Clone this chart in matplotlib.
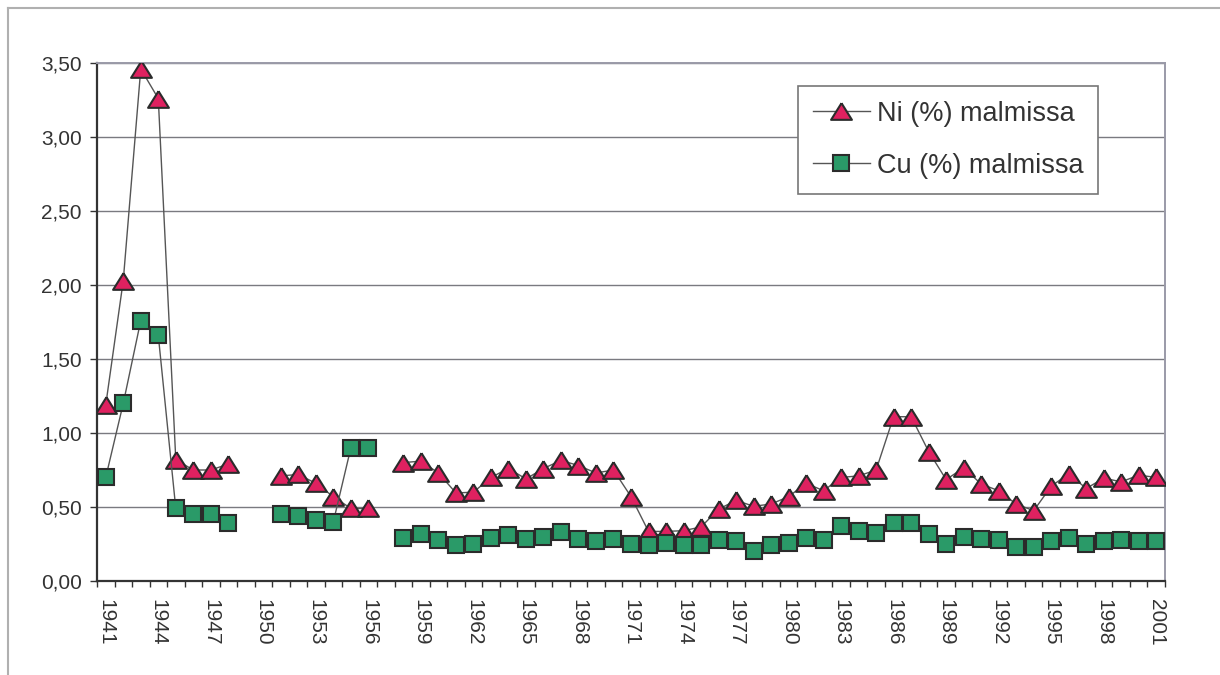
import matplotlib
matplotlib.use("Agg")
import matplotlib.pyplot as plt
from matplotlib.ticker import FixedLocator, FuncFormatter
from matplotlib.lines import Line2D
import numpy as np

plt.rcParams['font.family'] = ['Liberation Sans', 'DejaVu Sans']

years = list(range(1941, 2002))

# Ni and Cu content in ore (%), None = no data for that year
ni = [1.19, 2.03, 3.46, 3.26, 0.82, 0.75, 0.75, 0.79, None, None,
      0.71, 0.72, 0.66, 0.57, 0.49, 0.49, None, 0.80, 0.81, 0.73,
      0.595, 0.60, 0.70, 0.76, 0.69, 0.76, 0.815, 0.78, 0.73, 0.75,
      0.57, 0.335, 0.335, 0.34, 0.365, 0.485, 0.545, 0.505, 0.52, 0.57,
      0.66, 0.61, 0.70, 0.71, 0.75, 1.11, 1.11, 0.875, 0.685, 0.765,
      0.655, 0.61, 0.52, 0.475, 0.64, 0.725, 0.625, 0.695, 0.67, 0.715,
      0.70]
cu = [0.70, 1.20, 1.76, 1.66, 0.49, 0.455, 0.455, 0.395, None, None,
      0.455, 0.44, 0.41, 0.40, 0.90, 0.90, None, 0.29, 0.32, 0.28,
      0.24, 0.25, 0.29, 0.31, 0.285, 0.30, 0.33, 0.285, 0.27, 0.285,
      0.25, 0.24, 0.26, 0.245, 0.24, 0.275, 0.27, 0.20, 0.24, 0.255,
      0.29, 0.28, 0.37, 0.34, 0.325, 0.39, 0.39, 0.315, 0.25, 0.30,
      0.285, 0.275, 0.23, 0.23, 0.27, 0.29, 0.25, 0.27, 0.275, 0.27,
      0.27]

labels = ['Ni (%) malmissa', 'Cu (%) malmissa']

ni_arr = np.array([np.nan if v is None else v for v in ni])
cu_arr = np.array([np.nan if v is None else v for v in cu])
x = np.arange(len(years))

W, H = 1220, 675
fig = plt.figure(figsize=(W / 100, H / 100), dpi=100)
fig.patch.set_facecolor('white')

# outer frame (top and left edges only)
fig.add_artist(Line2D([8 / W, 1.0], [1 - 8 / H, 1 - 8 / H], color='#b0b0b0', lw=1.5))
fig.add_artist(Line2D([8 / W, 8 / W], [0.0, 1 - 8 / H], color='#b0b0b0', lw=1.5))

ax = fig.add_axes([97 / W, 1 - 581 / H, (1165 - 97) / W, (581 - 63) / H])

# slightly flattened triangle marker
tri = [(0, 0.8), (-1, -0.8), (1, -0.8), (0, 0.8)]

line_col = '#555555'
edge_col = '#2b2b2b'
ax.plot(x, ni_arr, color=line_col, lw=1, marker=tri, ms=15,
        mfc='#df2160', mec=edge_col, mew=1.5, label=labels[0], zorder=3)
ax.plot(x, cu_arr, color=line_col, lw=1, marker='s', ms=12,
        mfc='#2a9a68', mec=edge_col, mew=1.5, label=labels[1], zorder=3)

ax.set_xlim(-0.5, len(years) - 0.5)
ax.set_ylim(0, 3.5)

ax.yaxis.set_major_locator(FixedLocator(np.arange(0, 3.51, 0.5)))
ax.yaxis.set_major_formatter(FuncFormatter(lambda v, p: f'{v:.2f}'.replace('.', ',')))
ax.grid(axis='y', color='#7a7a80', lw=1)
ax.set_axisbelow(True)

ax.xaxis.set_major_locator(FixedLocator(x[::3]))
ax.set_xticklabels([str(y) for y in years[::3]], rotation=-90)
ax.xaxis.set_minor_locator(FixedLocator(np.arange(-0.5, len(years), 1)))
ax.tick_params(axis='x', which='major', length=0, pad=13, labelsize=15, labelcolor='#333333')
ax.tick_params(axis='x', which='minor', length=4, width=1, color='#333333', direction='out')
ax.tick_params(axis='y', length=5, width=1, color='#333333', pad=6,
               labelsize=15, labelcolor='#333333')

for side in ['left', 'bottom']:
    ax.spines[side].set_color('#333333')
    ax.spines[side].set_linewidth(1.6)
for side in ['top', 'right']:
    ax.spines[side].set_color('#9a9aa8')
    ax.spines[side].set_linewidth(1.4)

leg = ax.legend(loc='upper left', bbox_to_anchor=(798 / W, 1 - 86 / H),
                bbox_transform=fig.transFigure, borderaxespad=0,
                fontsize=19.5, frameon=True, fancybox=False, framealpha=1,
                edgecolor='#777777', handlelength=2.1, handletextpad=0.25,
                labelspacing=0.95, borderpad=0.55)
leg.get_frame().set_linewidth(1.2)
for t in leg.get_texts():
    t.set_color('#333333')

fig.savefig('out.png', dpi=100, facecolor='white')
